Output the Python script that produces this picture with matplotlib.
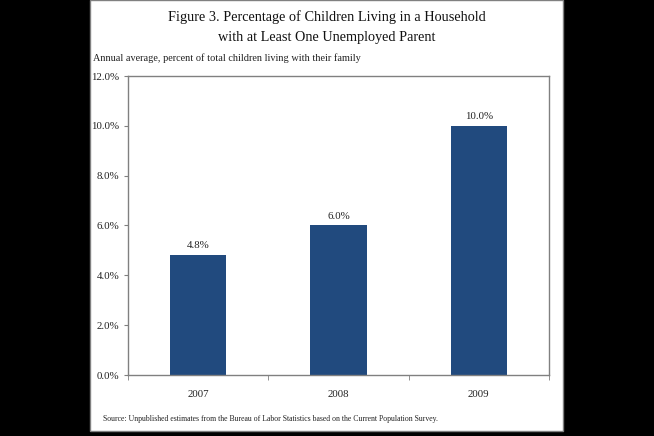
import matplotlib
matplotlib.use("Agg")
import matplotlib.pyplot as plt
from matplotlib.patches import Rectangle
from matplotlib.ticker import FuncFormatter, MultipleLocator

categories = ["2007", "2008", "2009"]
values = [4.8, 6.0, 10.0]
bar_labels = ["4.8%", "6.0%", "10.0%"]

plt.rcParams['font.family'] = ['Liberation Serif', 'DejaVu Serif']

W, H = 654, 436
fig = plt.figure(figsize=(W/100, H/100), dpi=100, facecolor='black')

# white panel
fig.patches.append(Rectangle((90/W, 5/H), (563-90)/W, (436-5)/H, transform=fig.transFigure,
                             facecolor='white', edgecolor='#808080', linewidth=1.0, zorder=-10))

ax = fig.add_axes([128/W, (H-375)/H, (549-128)/W, (375-76)/H])
ax.set_facecolor('white')
x = list(range(len(categories)))
bars = ax.bar(x, values, width=0.4, color='#214A7E', zorder=2)
for xi, v, lab in zip(x, values, bar_labels):
    ax.text(xi, v + 0.2, lab, ha='center', va='bottom', fontsize=7.8, color='#222222')

ax.set_xlim(-0.5, len(categories) - 0.5)
ax.set_ylim(0, 12)
ax.yaxis.set_major_locator(MultipleLocator(2))
ax.yaxis.set_major_formatter(FuncFormatter(lambda v, p: f"{v:.1f}%"))
ax.set_xticks(x)
ax.set_xticklabels(categories)
ax.set_xticks([i - 0.5 for i in range(len(categories) + 1)], minor=True)
ax.tick_params(axis='x', which='major', length=0, pad=11, labelsize=7.8, colors='#222222')
ax.tick_params(axis='x', which='minor', length=3.5, direction='out', color='#808080')
ax.tick_params(axis='y', length=3, direction='out', color='#808080', labelsize=7.8, labelcolor='#222222', pad=3)
for s in ax.spines.values():
    s.set_color('#808080')
    s.set_linewidth(1.0)

fig.text(326.5/W, 1 - 17/H, "Figure 3. Percentage of Children Living in a Household",
         ha='center', va='center', fontsize=10.3, color='#111111')
fig.text(326.5/W, 1 - 38/H, "with at Least One Unemployed Parent",
         ha='center', va='center', fontsize=10.3, color='#111111')
fig.text(93/W, 1 - 58/H, "Annual average, percent of total children living with their family",
         ha='left', va='center', fontsize=7.4, color='#222222')
fig.text(103/W, 1 - 419/H,
         "Source: Unpublished estimates from the Bureau of Labor Statistics based on the Current Population Survey.",
         ha='left', va='center', fontsize=5.6, color='#222222')

fig.savefig("out.png", dpi=100, facecolor='black')
